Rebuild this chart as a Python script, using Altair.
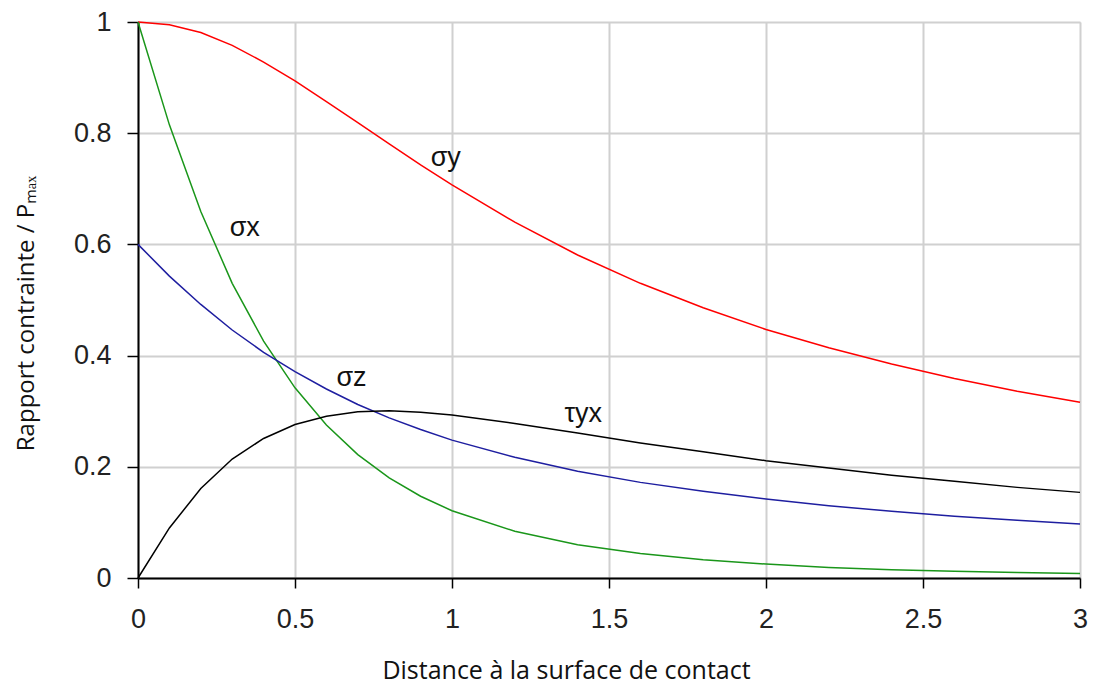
import altair as alt
import pandas as pd

# Distance values (x)
x_vals = [0, 0.1, 0.2, 0.3, 0.4, 0.5, 0.6, 0.7, 0.8, 0.9, 1.0,
          1.2, 1.4, 1.6, 1.8, 2.0, 2.2, 2.4, 2.6, 2.8, 3.0]

sigma_y = [1.000, 0.995, 0.981, 0.958, 0.928, 0.894, 0.857, 0.819, 0.781, 0.743, 0.707,
           0.640, 0.581, 0.530, 0.486, 0.447, 0.414, 0.385, 0.359, 0.336, 0.316]
sigma_x = [1.000, 0.815, 0.659, 0.530, 0.426, 0.342, 0.275, 0.222, 0.180, 0.147, 0.121,
           0.084, 0.060, 0.044, 0.033, 0.025, 0.019, 0.015, 0.012, 0.010, 0.008]
sigma_z = [0.600, 0.543, 0.492, 0.446, 0.406, 0.371, 0.340, 0.312, 0.288, 0.267, 0.248,
           0.217, 0.192, 0.172, 0.156, 0.142, 0.130, 0.120, 0.111, 0.104, 0.097]
tau_yx = [0.000, 0.090, 0.161, 0.214, 0.251, 0.276, 0.291, 0.299, 0.301, 0.298, 0.293,
          0.278, 0.261, 0.243, 0.227, 0.211, 0.198, 0.185, 0.174, 0.163, 0.154]

series_names = ["σy", "σx", "σz", "τyx"]
series_colors = ["#ff0000", "#1a961a", "#1e1ea0", "#000000"]

# Curve labels
label_text = ["σy", "σx", "σz", "τyx"]
label_x = [0.98, 0.34, 0.68, 1.418]
label_y = [0.755, 0.63, 0.36, 0.295]

x_ticks = [0, 0.5, 1, 1.5, 2, 2.5, 3]
y_ticks = [0, 0.2, 0.4, 0.6, 0.8, 1]

rows = []
for name, vals in zip(series_names, [sigma_y, sigma_x, sigma_z, tau_yx]):
    for xv, yv in zip(x_vals, vals):
        rows.append({"x": xv, "y": yv, "serie": name})
df = pd.DataFrame(rows)
df_lab = pd.DataFrame({"x": label_x, "y": label_y, "t": label_text})

FONT = "Liberation Sans"

xscale = alt.Scale(domain=[0, 3], nice=False, zero=False)
yscale = alt.Scale(domain=[0, 1], nice=False)

lines = alt.Chart(df).mark_line(strokeWidth=1.5).encode(
    x=alt.X("x:Q", scale=xscale,
            axis=alt.Axis(values=x_ticks, format="~g", title="Distance à la surface de contact",
                          titleX=428, titleY=100, titleBaseline="alphabetic", titleAlign="center",
                          titleFont="Open Sans", titleFontSize=25, titleFontWeight="normal",
                          titleColor="#111",
                          labelFont=FONT, labelFontSize=27, labelColor="#222", labelFlush=False,
                          labelPadding=18, tickSize=10, tickColor="#000", tickWidth=1.5,
                          domainColor="#000", domainWidth=2,
                          grid=True, gridColor="#d0d0d0", gridWidth=2)),
    y=alt.Y("y:Q", scale=yscale,
            axis=alt.Axis(values=y_ticks, format="~g", title="Rapport contrainte / Pₘₐₓ",
                          titleX=-112, titleY=291, titleAngle=270, titleBaseline="middle",
                          titleAlign="center",
                          titleFont="Open Sans", titleFontSize=24, titleFontWeight="normal",
                          titleColor="#111",
                          labelFont=FONT, labelFontSize=27, labelColor="#222", labelFlush=False,
                          labelPadding=16, tickSize=11, tickColor="#000", tickWidth=1.5,
                          domainColor="#000", domainWidth=2,
                          grid=True, gridColor="#d0d0d0", gridWidth=2)),
    color=alt.Color("serie:N", scale=alt.Scale(domain=series_names, range=series_colors),
                    legend=None),
    detail="serie:N",
)

labels = alt.Chart(df_lab).mark_text(font=FONT, fontSize=27, color="#111",
                                     align="center", baseline="middle").encode(
    x=alt.X("x:Q", scale=xscale),
    y=alt.Y("y:Q", scale=yscale),
    text="t:N",
)

chart = alt.layer(lines, labels).properties(
    width=942, height=556,
    autosize=alt.AutoSizeParams(type="none"),
    padding={"left": 130, "top": 14, "right": 8, "bottom": 108},
).configure_view(stroke=None).configure(background="white")

chart.save("out.html", embed_options={"renderer": "svg", "actions": False})
